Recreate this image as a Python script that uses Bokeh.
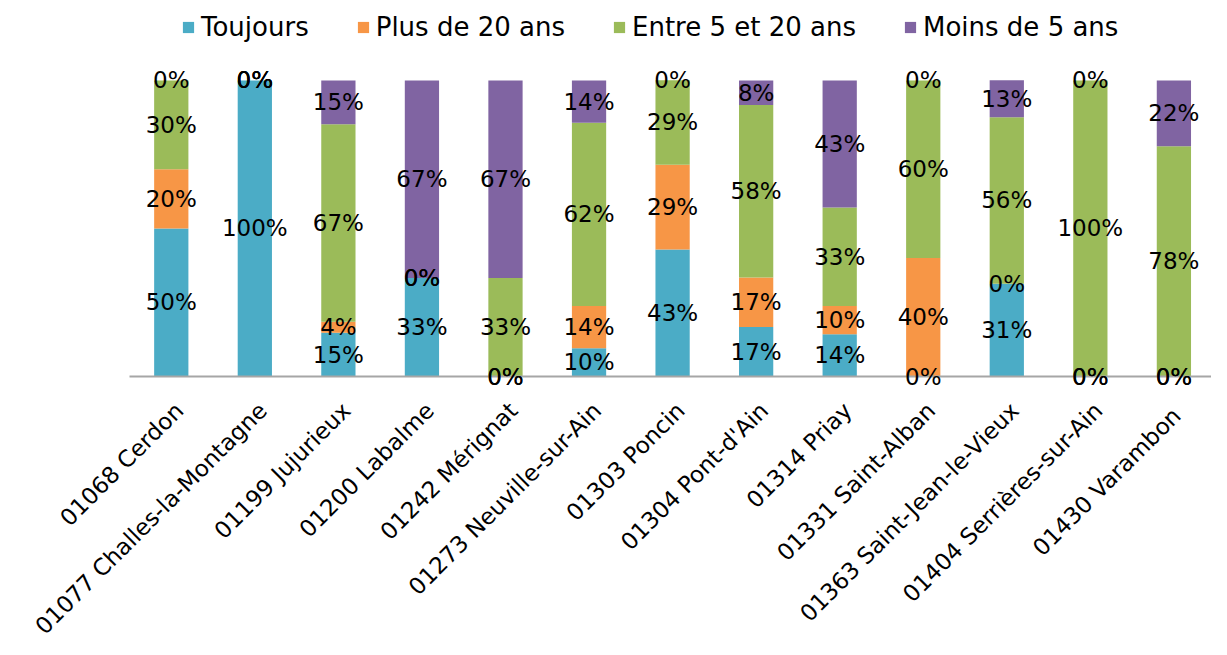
import math
import numpy as np
from bokeh.plotting import figure
from bokeh.models import ColumnDataSource, Range1d, FixedTicker, Legend, LegendItem
from bokeh.core.properties import value
from bokeh.embed import file_html
from bokeh.resources import INLINE

communes = ["01068 Cerdon", "01077 Challes-la-Montagne", "01199 Jujurieux", "01200 Labalme",
            "01242 Mérignat", "01273 Neuville-sur-Ain", "01303 Poncin", "01304 Pont-d'Ain",
            "01314 Priay", "01331 Saint-Alban", "01363 Saint-Jean-le-Vieux",
            "01404 Serrières-sur-Ain", "01430  Varambon"]
toujours = [50.0, 100.0, 14.8, 33.3, 0.0, 9.5, 42.9, 16.7, 14.3, 0.0, 31.3, 0.0, 0.0]
plus_20 = [20.0, 0.0, 3.7, 0.0, 0.0, 14.3, 28.6, 16.7, 9.5, 40.0, 0.0, 0.0, 0.0]
entre_5_20 = [30.0, 0.0, 66.7, 0.0, 33.3, 61.9, 28.6, 58.3, 33.3, 60.0, 56.3, 100.0, 77.8]
moins_5 = [0.0, 0.0, 14.8, 66.7, 66.7, 14.3, 0.0, 8.3, 42.9, 0.0, 12.5, 0.0, 22.2]
series_names = ["Toujours", "Plus de 20 ans", "Entre 5 et 20 ans", "Moins de 5 ans"]
colors = ["#4BACC6", "#F79646", "#9BBB59", "#8064A2"]

FONT = "DejaVu Sans"
keys = ["s0", "s1", "s2", "s3"]
series = [toujours, plus_20, entre_5_20, moins_5]
xs = list(range(len(communes)))
data = {"x": xs, "name": communes, "base": [0.0] * len(communes)}
for k, s in zip(keys, series):
    data[k] = s
source = ColumnDataSource(data)

W, H = 1211, 639
p = figure(width=W, height=H,
           x_range=Range1d(-0.5, 12.45), y_range=Range1d(0, 127.0),
           output_backend="svg", toolbar_location=None,
           min_border_left=129, min_border_right=0,
           min_border_top=0, min_border_bottom=H - 376)

renderers = p.vbar_stack(keys, x="x", width=0.41, color=colors, line_color=None, source=source)

# data labels
arr = np.array(series)
bottoms = np.vstack([np.zeros(arr.shape[1]), np.cumsum(arr, axis=0)[:-1]])
centers = bottoms + arr / 2.0
lx, ly, lt = [], [], []
for i in range(arr.shape[0]):
    for j in range(arr.shape[1]):
        lx.append(xs[j])
        ly.append(float(centers[i, j]))
        lt.append(f"{int(math.floor(arr[i, j] + 0.5))}%")
lsrc = ColumnDataSource(dict(x=lx, y=ly, t=lt))
p.text(x="x", y="y", text="t", source=lsrc, text_align="center", text_baseline="middle",
       text_font=value(FONT), text_font_size="23px", text_color="black", level="overlay")

# category labels (rotated 45°, anchored at their end under each bar)
p.text(x="x", y="base", text="name", source=source, angle=math.pi / 4,
       text_align="right", text_baseline="middle", x_offset=8, y_offset=30,
       text_font=value(FONT), text_font_size="23px", text_color="black", level="overlay")

legend = Legend(items=[LegendItem(label=n, renderers=[r]) for n, r in zip(series_names, renderers)],
                orientation="horizontal", location=(52, 334),
                label_text_font=FONT, label_text_font_size="26px", label_text_color="black",
                glyph_width=14, glyph_height=14, label_standoff=6, spacing=47, padding=5,
                border_line_color=None, background_fill_alpha=0)
p.add_layout(legend, "center")

p.yaxis.visible = False
p.grid.visible = False
p.outline_line_color = None
ax = p.xaxis[0]
ax.ticker = FixedTicker(ticks=[])
ax.major_tick_line_color = None
ax.minor_tick_line_color = None
ax.axis_line_color = "#A6A6A6"
ax.axis_line_width = 2

open("out.html", "w").write(file_html(p, INLINE))
